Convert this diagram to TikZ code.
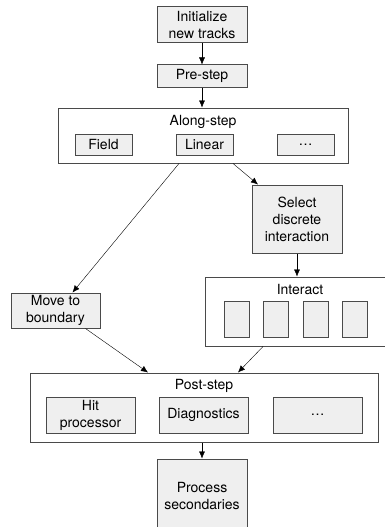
\documentclass[tikz,border=0pt]{standalone}
\usepackage{fontspec}
\setmainfont{TeX Gyre Heros}
\usetikzlibrary{arrows.meta}
\definecolor{boxfill}{HTML}{EFEFEF}
\definecolor{boxline}{HTML}{4A4A4A}
\tikzset{
  stage/.style={draw=boxline,fill=boxfill,line width=1pt,align=center,inner sep=0pt},
  group/.style={draw=boxline,fill=white,line width=1pt,inner sep=0pt},
}

\begin{document}
\begin{tikzpicture}[x=1pt,y=-1pt,>={Latex[length=7pt,width=6pt]},
    font=\fontsize{14}{17}\selectfont]
    \useasboundingbox (0,0) rectangle (385,527);
    \clip (0,0) rectangle (385,527);
    % start
    \node[stage,minimum width=90,minimum height=36] (init) at (202,25) {Initialize\\new tracks};
    \node[stage,minimum width=90,minimum height=22] (pre) at (202,76) {Pre-step};
    \draw[->] (init) -- (pre);
    % along-step
    \node[group,minimum width=290,minimum height=55] (along) at (203,135.5) {};
    \node (alonglbl) at (203,122) {Along-step};
    \node[stage,minimum width=57,minimum height=21] (field) at (103.5,144.5) {Field};
    \node[stage,minimum width=57,minimum height=21] (linear) at (204.5,144.5) {Linear};
    \node[stage,minimum width=57,minimum height=21] (adots) at (305.5,144.5) {\dots};
    \draw[->] (pre) -- (pre |- along.north);
    % discrete branch
    \node[stage,minimum width=90,minimum height=68] (select) at (297,219) {Select\\discrete\\interaction};
    \node[group,minimum width=190,minimum height=69] (interact) at (300,311.5) {};
    \node (interactlbl) at (300,289) {Interact};
    \foreach \x [count=\i] in {236.5,275.5,315.5,355}
      \node[stage,minimum width=25,minimum height=36] (int\i) at (\x,319) {};
    \draw[->] ([xshift=30]along.south) -- ([xshift=-39]select.north);
    \draw[->] (select) -- (select |- interact.north);
    % boundary branch
    \node[stage,minimum width=89,minimum height=35] (move) at (55.5,310.5) {Move to\\boundary};
    \draw[->] ([xshift=-24]along.south) -- ([xshift=17]move.north);
    % post-step
    \node[group,minimum width=348,minimum height=69] (post) at (204,407.5) {};
    \node (postlbl) at (204,386) {Post-step};
    \node[stage,minimum width=89,minimum height=36] (hit) at (90.5,415) {Hit\\processor};
    \node[stage,minimum width=89,minimum height=36] (diag) at (203.5,415) {Diagnostics};
    \node[stage,minimum width=89,minimum height=36] (pdots) at (317.5,415) {\dots};
    \draw[->] ([xshift=30]move.south) -- ([xshift=-56]post.north);
    \draw[->] ([xshift=-37]interact.south) -- ([xshift=34]post.north);
    % secondaries
    \node[stage,minimum width=90,minimum height=74] (proc) at (202,496) {Process\\secondaries};
    \draw[->] (post.south -| proc) -- (proc);
  \end{tikzpicture}
\end{document}
